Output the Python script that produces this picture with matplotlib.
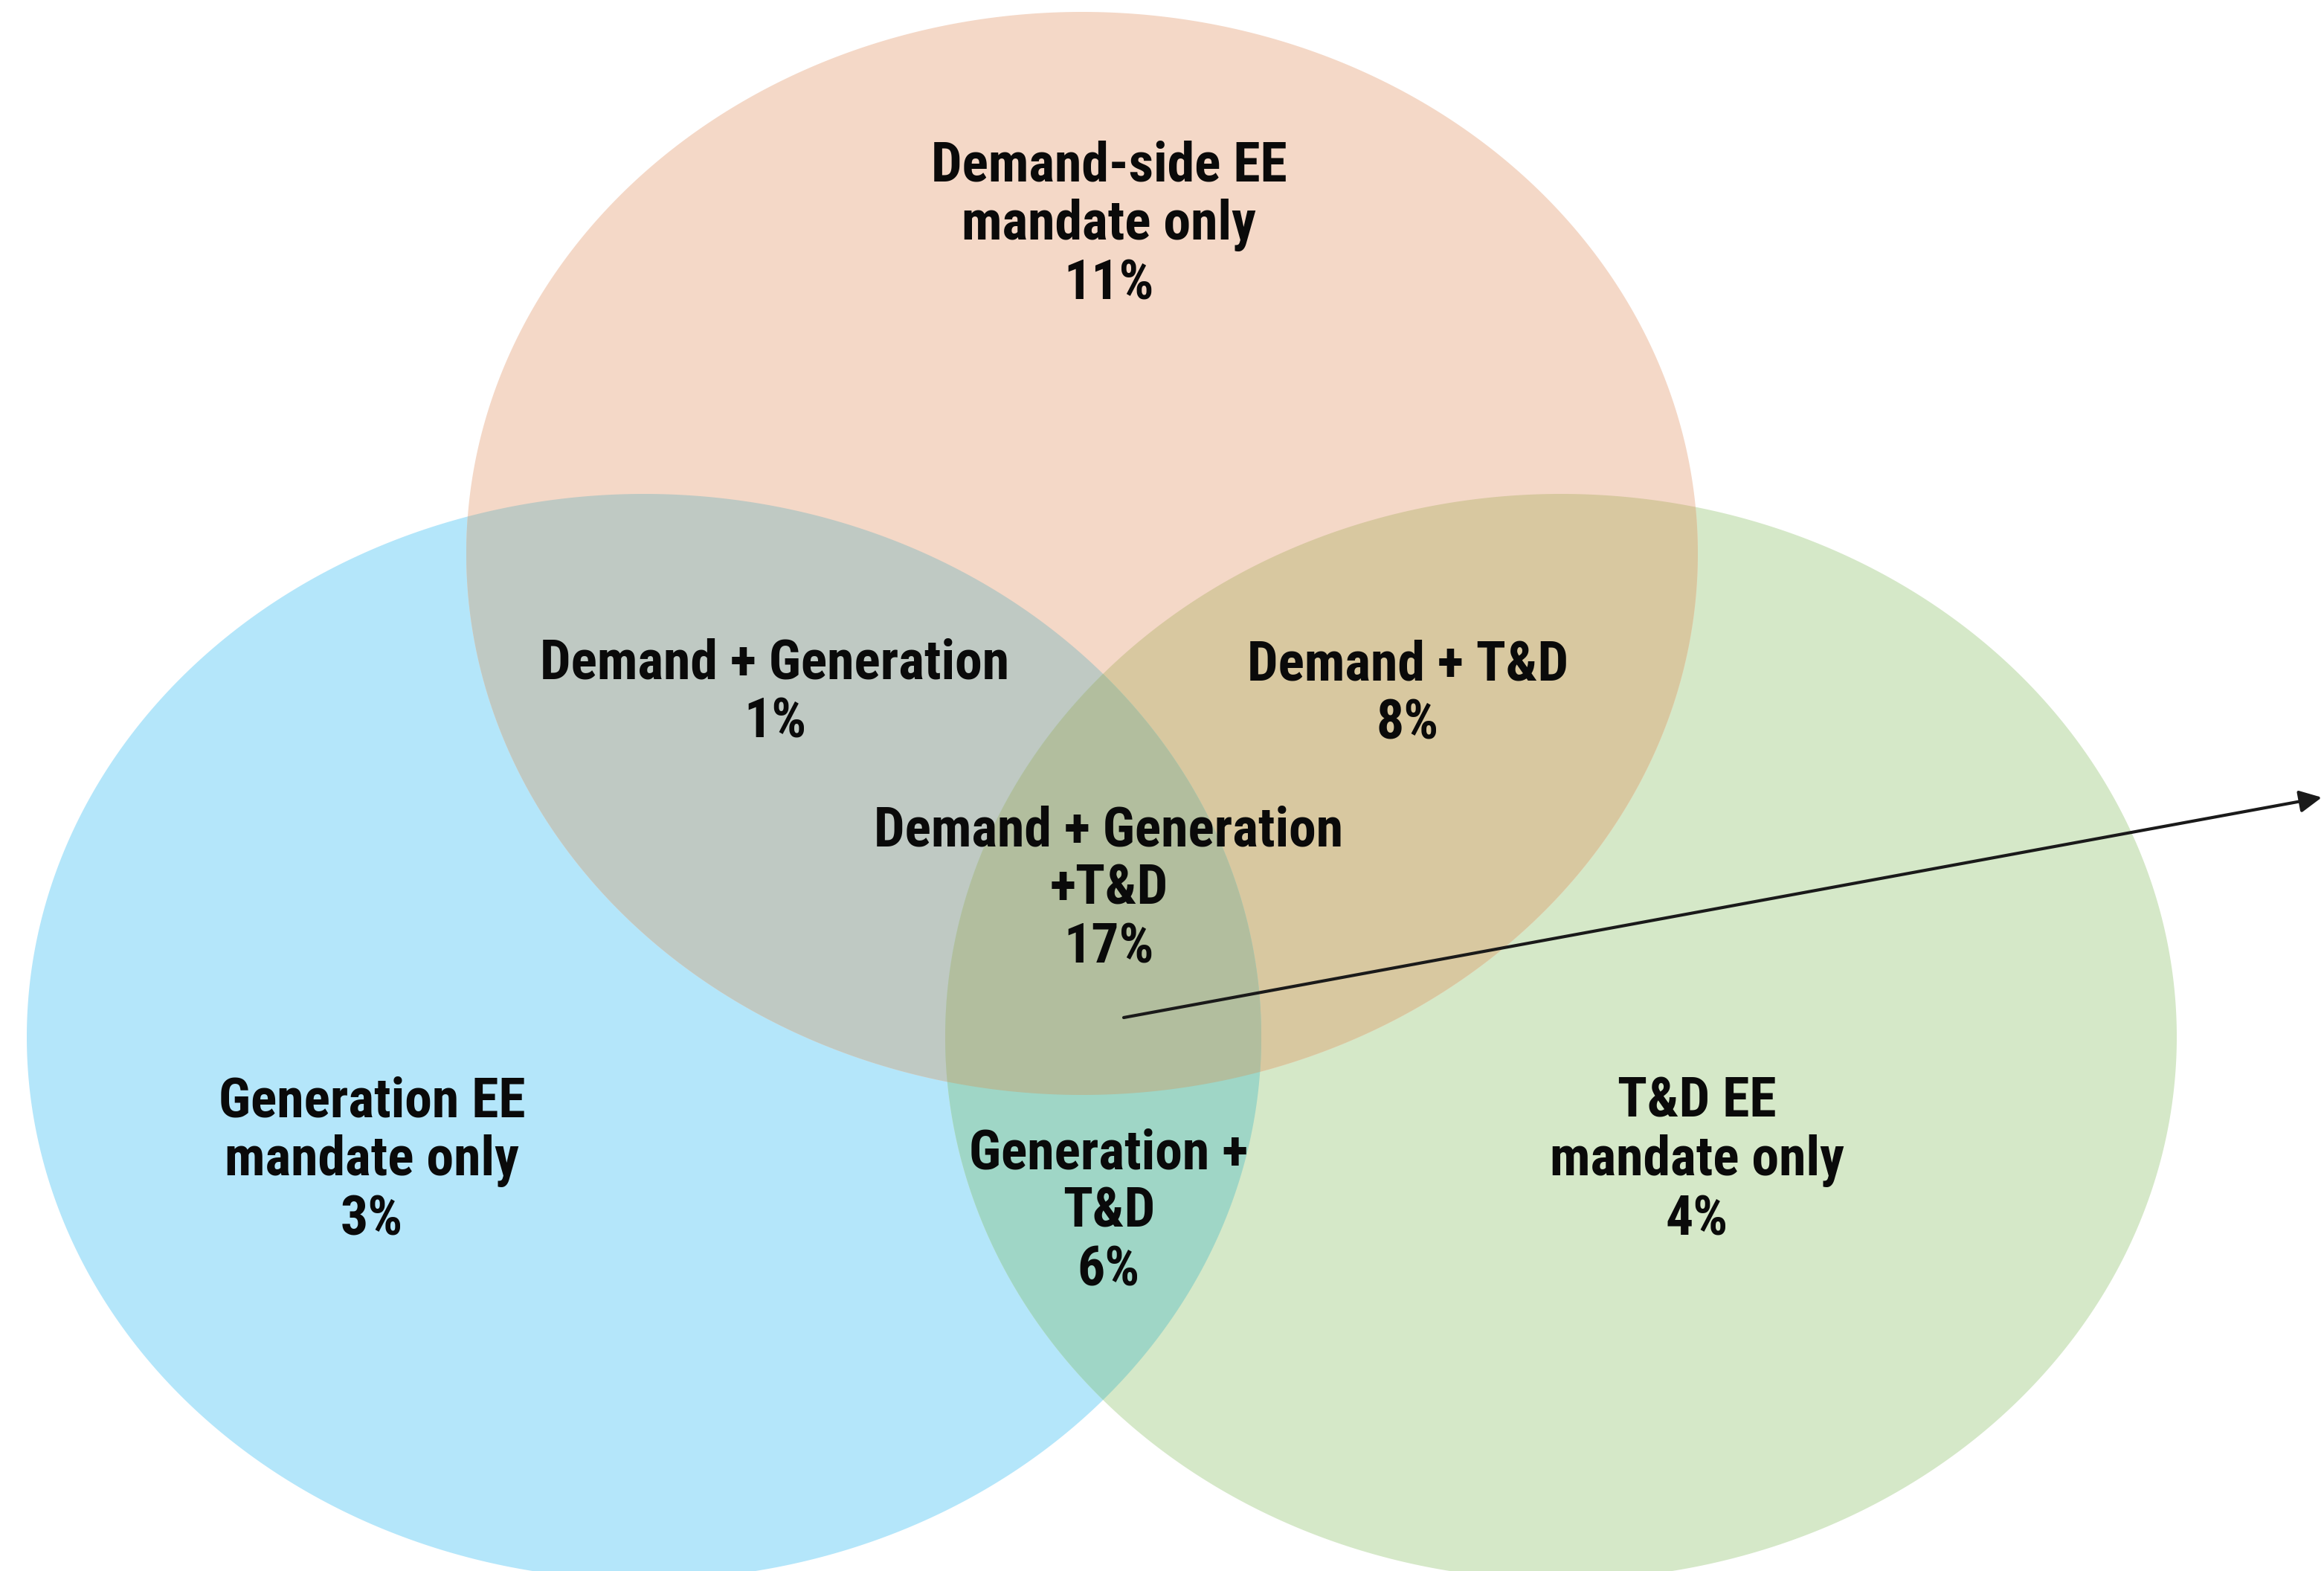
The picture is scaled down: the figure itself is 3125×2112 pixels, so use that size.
import numpy as np
import matplotlib
matplotlib.use("Agg")
import matplotlib.pyplot as plt
from matplotlib.patches import Polygon

# ---- data ----
set_names = ["Demand-side EE", "Generation EE", "T&D EE"]
region_labels = [
    "Demand-side EE\nmandate only",
    "Demand + Generation",
    "Demand + T&D",
    "Demand + Generation\n+T&D",
    "Generation EE\nmandate only",
    "Generation +\nT&D",
    "T&D EE\nmandate only",
]
region_values = [11, 1, 8, 17, 3, 6, 4]   # percent

# ---- layout (pixel coordinates of the 3125x2112 canvas) ----
W, H = 3125, 2112
ell = {  # cx, cy, semi-axis a, semi-axis b
    "D": (1455, 744, 828, 728),
    "G": (866, 1394, 830, 730),
    "T": (2099, 1394, 828, 730),
}
col = {
    "D": "#F4D8C7", "G": "#B4E6FA", "T": "#D5E8C8",
    "DG": "#BFC9C3", "DT": "#D8C8A0", "GT": "#9FD6C6", "DGT": "#B2BE9E",
}
label_pos = [(1491, 303), (1042, 932), (1893, 934), (1491, 1196),
             (500, 1561), (1491, 1630), (2282, 1561)]


def ellipse_poly(cx, cy, a, b, n=900):
    t = np.linspace(0, 2 * np.pi, n, endpoint=False)
    return np.column_stack([cx + a * np.cos(t), cy + b * np.sin(t)])


def signed_area(p):
    x, y = p[:, 0], p[:, 1]
    return 0.5 * np.sum(x * np.roll(y, -1) - np.roll(x, -1) * y)


def clip(subject, clipper):
    """Sutherland-Hodgman clipping of polygon by convex polygon."""
    orient = np.sign(signed_area(clipper))
    out = list(map(tuple, subject))
    n = len(clipper)
    for i in range(n):
        A = clipper[i]
        B = clipper[(i + 1) % n]
        inp = out
        out = []
        if not inp:
            break

        def inside(P):
            return orient * ((B[0] - A[0]) * (P[1] - A[1]) - (B[1] - A[1]) * (P[0] - A[0])) >= 0

        def inter(P, Q):
            x1, y1 = P; x2, y2 = Q
            x3, y3 = A; x4, y4 = B
            den = (x1 - x2) * (y3 - y4) - (y1 - y2) * (x3 - x4)
            t = ((x1 - x3) * (y3 - y4) - (y1 - y3) * (x3 - x4)) / den
            return (x1 + t * (x2 - x1), y1 + t * (y2 - y1))

        S = inp[-1]
        for E in inp:
            if inside(E):
                if not inside(S):
                    out.append(inter(S, E))
                out.append(E)
            elif inside(S):
                out.append(inter(S, E))
            S = E
    return np.array(out)


polys = {k: ellipse_poly(*v) for k, v in ell.items()}

fig = plt.figure(figsize=(W / 100, H / 100), dpi=100)
ax = fig.add_axes([0, 0, 1, 1])
ax.set_xlim(0, W)
ax.set_ylim(H, 0)
ax.axis("off")

for k in ["G", "T", "D"]:
    ax.add_patch(Polygon(polys[k], closed=True, facecolor=col[k], edgecolor="none", zorder=1))

pairs = {"DG": ("D", "G"), "DT": ("D", "T"), "GT": ("G", "T")}
for key, (p, q) in pairs.items():
    inter_poly = clip(polys[p], polys[q])
    ax.add_patch(Polygon(inter_poly, closed=True, facecolor=col[key], edgecolor="none", zorder=2))

tri = clip(clip(polys["D"], polys["G"]), polys["T"])
ax.add_patch(Polygon(tri, closed=True, facecolor=col["DGT"], edgecolor="none", zorder=3))

font = ["Roboto Condensed", "DejaVu Sans"]
for lab, val, (x, y) in zip(region_labels, region_values, label_pos):
    ax.text(x, y, f"{lab}\n{val}%", ha="center", va="center", family=font,
            fontweight="bold", fontsize=53, linespacing=1.16,
            color="#0a0a0a", zorder=5)

ax.annotate("", xy=(3122, 1072), xytext=(1511, 1368),
            arrowprops=dict(arrowstyle="-|>", color="#1a1a1a", lw=3.0,
                            mutation_scale=45, shrinkA=0, shrinkB=0),
            annotation_clip=False, zorder=6)

fig.savefig("out.png", dpi=100)
